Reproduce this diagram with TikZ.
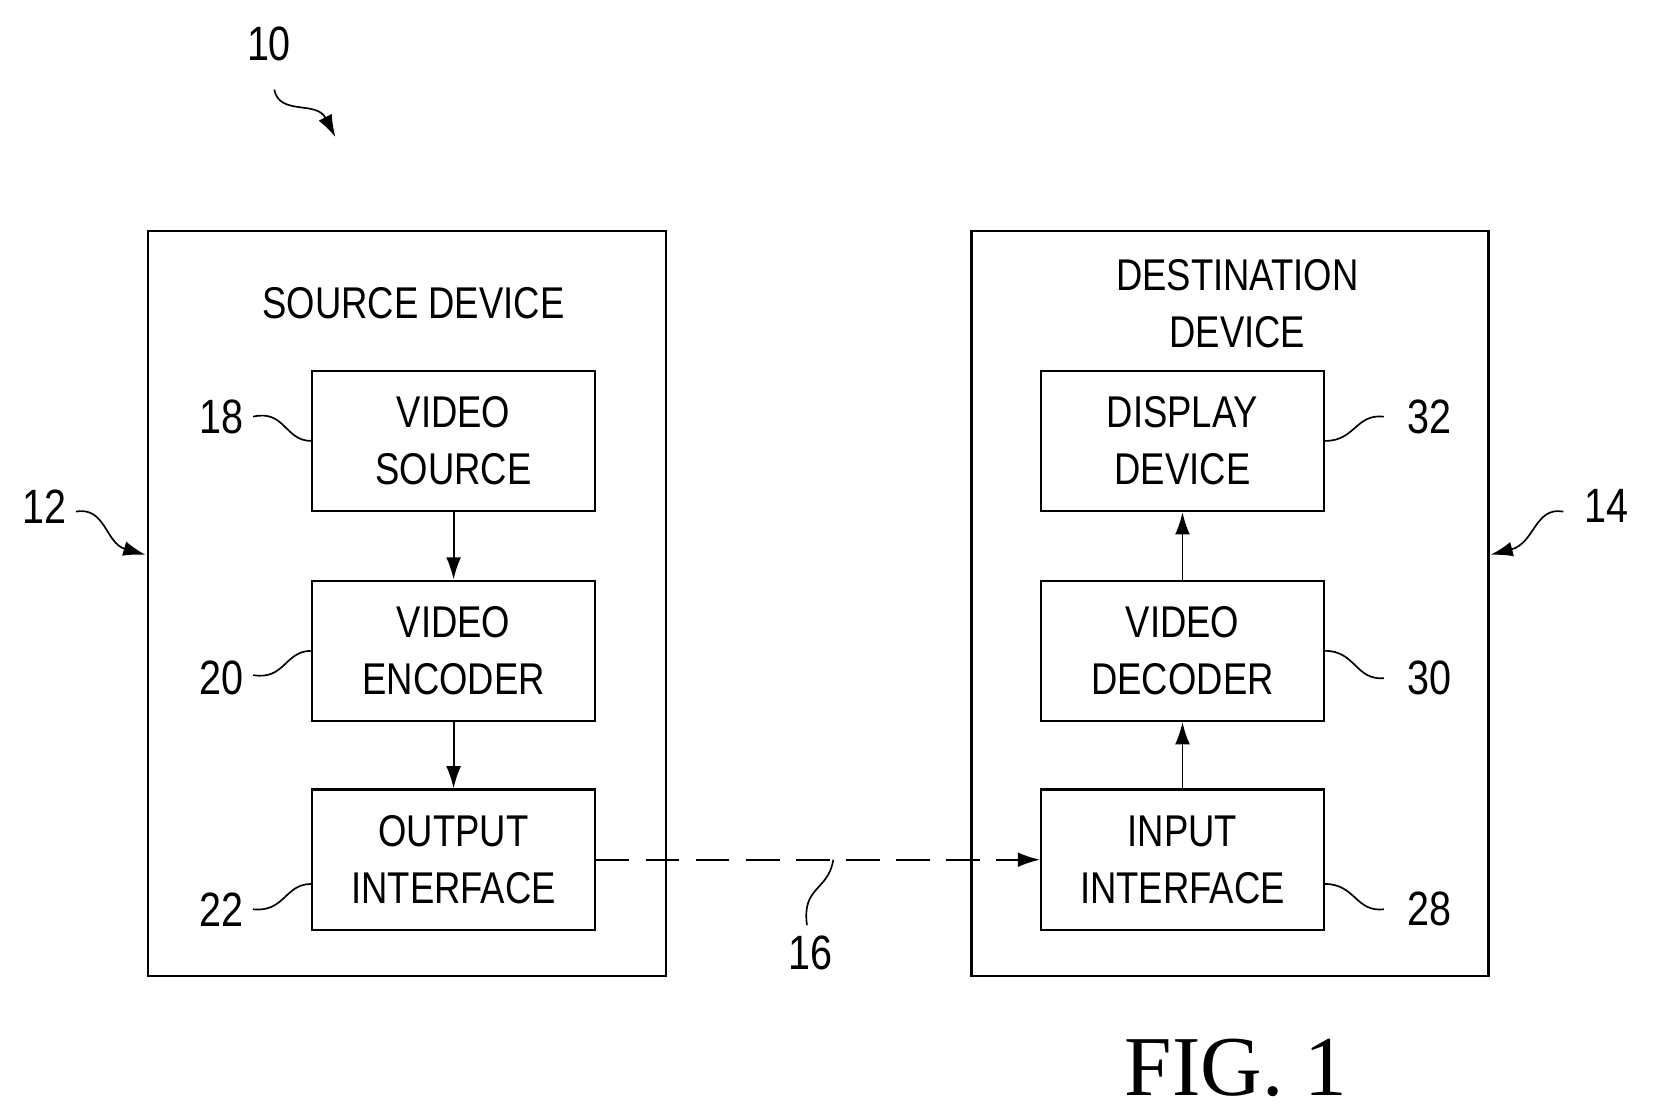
\documentclass[tikz,border=0pt]{standalone}
\usepackage{fontspec}
\setmainfont{Liberation Serif}
\setsansfont[FakeStretch=0.82]{Liberation Sans}
\usetikzlibrary{arrows.meta}
\begin{document}
\begin{tikzpicture}[x=0.02cm,y=-0.02cm,
  box/.style={draw,line width=1.2pt},
  blk/.style={draw,line width=1.2pt,align=center,font=\sffamily\fontsize{24}{31}\selectfont,inner sep=0pt},
  num/.style={font=\sffamily\fontsize{26}{30}\selectfont},
  lead/.style={line width=0.9pt},
  arr/.style={line width=1pt,-{Latex[length=12pt,width=8pt]}}]
\useasboundingbox (0,0) rectangle (1568,1057);
\node[box,minimum width=491*0.02cm,minimum height=706*0.02cm] (src) at (385.5,572) {};
\node[box,minimum width=490*0.02cm,minimum height=706*0.02cm] (dst) at (1166,572) {};
\node[font=\sffamily\fontsize{24}{31}\selectfont] (srct) at (392,287) {SOURCE DEVICE};
\node[font=\sffamily\fontsize{24}{31}\selectfont,align=center] (dstt) at (1173,288) {DESTINATION\\DEVICE};
\foreach \n/\x/\y/\t in {vs/430/418/{VIDEO\\SOURCE},ve/430/617/{VIDEO\\ENCODER},oi/430/815/{OUTPUT\\INTERFACE},
  dd/1121/418/{DISPLAY\\DEVICE},vd/1121/617/{VIDEO\\DECODER},ii/1121/815/{INPUT\\INTERFACE}}
  \node[blk,minimum width=268*0.02cm,minimum height=133*0.02cm] (\n) at (\x,\y) {\t};
\draw[arr] (vs) -- (ve);
\draw[arr] (ve) -- (oi);
\draw[arr] (ii) -- (vd);
\draw[arr] (vd) -- (dd);
\draw[arr,dash pattern=on 18pt off 9pt] (oi) -- (ii);
\node[num] (n10) at (255,42) {10};
\node[num] (n12) at (42,480) {12};
\node[num] (n14) at (1523,480) {14};
\node[num] (n16) at (768,903) {16};
\node[num] (n18) at (210,395) {18};
\node[num] (n20) at (210,643) {20};
\node[num] (n22) at (210,862) {22};
\node[num] (n32) at (1355,395) {32};
\node[num] (n30) at (1355,643) {30};
\node[num] (n28) at (1355,862) {28};
\coordinate (c10a) at (260,85); \coordinate (c10b) at (318,130);
\coordinate (c12a) at (72,485); \coordinate (c12b) at (138,526);
\coordinate (c14a) at (1482,485); \coordinate (c14b) at (1413,526);
\draw[arr,line width=0.9pt] (c10a) .. controls (265,110) and (300,95) .. (c10b);
\draw[arr,line width=0.9pt] (c12a) .. controls (100,480) and (100,515) .. (c12b);
\draw[arr,line width=0.9pt] (c14a) .. controls (1455,480) and (1455,515) .. (c14b);
\draw[lead] (240,395) .. controls (270,388) and (270,418) .. (vs.west |- 0,418);
\draw[lead] (240,640) .. controls (270,645) and (270,617) .. (ve.west |- 0,617);
\draw[lead] (240,862) .. controls (270,865) and (270,838) .. (oi.west |- 0,838);
\draw[lead] (dd.east |- 0,418) .. controls (1285,418) and (1285,392) .. (1312,395);
\draw[lead] (vd.east |- 0,617) .. controls (1285,617) and (1285,645) .. (1312,643);
\draw[lead] (ii.east |- 0,838) .. controls (1285,838) and (1285,865) .. (1312,862);
\draw[lead] (765,877) .. controls (760,840) and (785,845) .. (790,815);
\node[font=\fontsize{46}{50}\selectfont] (fig) at (1172,1012) {FIG. 1};
\end{tikzpicture}
\end{document}
